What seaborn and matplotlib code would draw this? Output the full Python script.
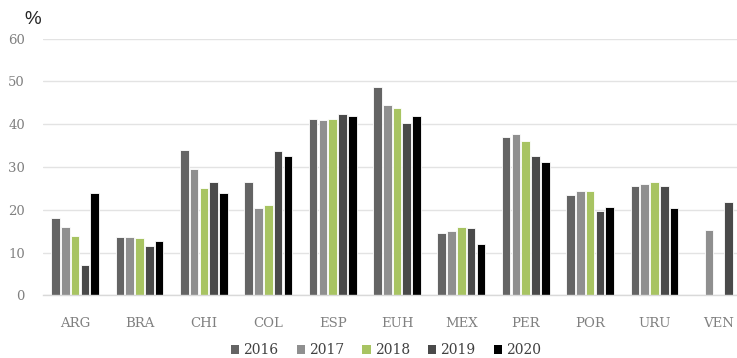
import numpy as np
import pandas as pd
import matplotlib
matplotlib.use("Agg")
import matplotlib.pyplot as plt
import seaborn as sns

# Country codes and yearly percentages
countries = ["ARG", "BRA", "CHI", "COL", "ESP", "EUH", "MEX", "PER", "POR", "URU", "VEN"]
years = ["2016", "2017", "2018", "2019", "2020"]
v2016 = [18.1, 13.7, 33.9, 26.4, 41.2, 48.6, 14.5, 37.0, 23.5, 25.6, np.nan]
v2017 = [16.0, 13.7, 29.5, 20.3, 40.9, 44.6, 15.0, 37.7, 24.5, 26.1, 15.3]
v2018 = [13.9, 13.4, 25.1, 21.1, 41.2, 43.8, 16.0, 36.1, 24.3, 26.6, np.nan]
v2019 = [7.1, 11.6, 26.6, 33.7, 42.4, 40.4, 15.8, 32.5, 19.8, 25.6, 21.9]
v2020 = [24.0, 12.7, 24.0, 32.5, 42.0, 42.0, 11.9, 31.1, 20.6, 20.3, np.nan]
year_colors = ["#646464", "#8f8f8f", "#a8c462", "#4a4a4a", "#000000"]

series = [v2016, v2017, v2018, v2019, v2020]
df = pd.DataFrame({
    "pais": countries * len(years),
    "anio": [y for y in years for _ in countries],
    "valor": [v for s in series for v in s],
})

sns.set_theme(style="white")
plt.rcParams["font.family"] = ["DejaVu Serif"]

fig = plt.figure(figsize=(7.37, 3.58), dpi=100)
ax = fig.add_axes([43 / 737, (358 - 295.3) / 358, (751 - 43) / 737, (295.3 - 38.7) / 358])

sns.barplot(data=df, x="pais", y="valor", hue="anio", order=countries, hue_order=years,
            palette=year_colors, width=0.76, gap=0.12, edgecolor="white", linewidth=0.6,
            saturation=1, ax=ax, legend=False)

ax.set_ylim(0, 60)
ax.set_yticks(range(0, 61, 10))
ax.yaxis.grid(True, color="#e3e3e3", linewidth=1.0)
ax.set_axisbelow(True)
for side in ["top", "right", "left"]:
    ax.spines[side].set_visible(False)
ax.spines["bottom"].set_color("#d9d9d9")
ax.spines["bottom"].set_linewidth(1.0)
ax.set_xlabel("")
ax.set_ylabel("")
ax.tick_params(axis="y", length=0, pad=13, labelsize=9.5, labelcolor="#808080")
ax.tick_params(axis="x", length=0, pad=15.5, labelsize=9.5, labelcolor="#808080")

fig.text(24 / 737, 1 - 19 / 358, "%", fontsize=13.5, color="#262626",
         ha="left", va="center", family=["Liberation Sans", "DejaVu Sans"])

handles = [plt.Rectangle((0, 0), 1, 1, facecolor=c, edgecolor="none") for c in year_colors]
fig.legend(handles, years, loc="center", bbox_to_anchor=(386 / 737, 1 - 350 / 358), ncol=5,
           frameon=False, fontsize=10, handlelength=0.6, handleheight=0.6,
           handletextpad=0.3, columnspacing=1.3, labelcolor="#404040")

fig.savefig("out.png", dpi=100)
